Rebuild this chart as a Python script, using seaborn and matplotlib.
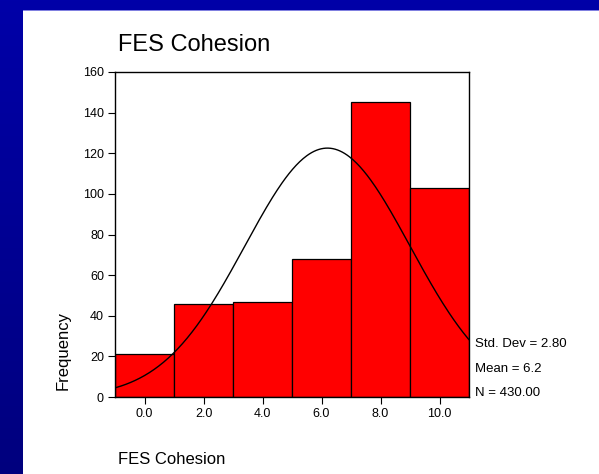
import numpy as np
import pandas as pd
import matplotlib
matplotlib.use("Agg")
import matplotlib.pyplot as plt
import seaborn as sns
from matplotlib.patches import Rectangle

# ---- data ----
bin_edges = [-1, 1, 3, 5, 7, 9, 11]
counts = [21, 46, 47, 68, 145, 103]
x_ticks = [0, 2, 4, 6, 8, 10]
x_tick_labels = ["0.0", "2.0", "4.0", "6.0", "8.0", "10.0"]
y_ticks = [0, 20, 40, 60, 80, 100, 120, 140, 160]
std_dev = 2.80
mean = 6.2
n_total = 430

sns.set_theme(style="white")
plt.rcParams['font.family'] = ['Liberation Sans', 'DejaVu Sans']

W, H = 599, 474
fig = plt.figure(figsize=(W / 100, H / 100), dpi=100)

# background gradient (slide)
bg = fig.add_axes([0, 0, 1, 1])
bg.set_axis_off()
grad = np.linspace(0, 1, 256).reshape(-1, 1)
from matplotlib.colors import LinearSegmentedColormap
cmap = LinearSegmentedColormap.from_list("b", ["#0000A8", "#00007E"])
bg.imshow(grad, aspect="auto", cmap=cmap, extent=[0, 1, 0, 1], origin="upper")
bg.set_xlim(0, 1)
bg.set_ylim(0, 1)
# white panel
bg.add_patch(Rectangle((23 / W, 0), 1 - 23 / W, 1 - 10 / H, facecolor="white", edgecolor="none"))
bg.add_patch(Rectangle((23 / W, 1 - 11 / H), 1 - 23 / W, 1.2 / H, facecolor="#8080E0", edgecolor="none"))

# main axes
left, right = 115 / W, 469 / W
bottom, top = 1 - 397 / H, 1 - 72 / H
ax = fig.add_axes([left, bottom, right - left, top - bottom])

centers = [(bin_edges[i] + bin_edges[i + 1]) / 2 for i in range(len(counts))]
df = pd.DataFrame({"x": centers, "w": counts})
sns.histplot(data=df, x="x", weights="w", bins=bin_edges, ax=ax,
             color="#FF0000", edgecolor="black", linewidth=0.9, alpha=1)

# fitted normal curve
xs = np.linspace(bin_edges[0], bin_edges[-1], 300)
bw = bin_edges[1] - bin_edges[0]
ys = n_total * bw / (std_dev * np.sqrt(2 * np.pi)) * np.exp(-0.5 * ((xs - mean) / std_dev) ** 2)
sns.lineplot(x=xs, y=ys, ax=ax, color="black", linewidth=1.0)

ax.set_xlim(bin_edges[0], bin_edges[-1])
ax.set_ylim(0, 160)
ax.set_xticks(x_ticks)
ax.set_xticklabels(x_tick_labels)
ax.set_yticks(y_ticks)
ax.set_xlabel("")
ax.set_ylabel("")
ax.tick_params(axis="both", which="both", direction="out", length=5, width=0.8,
               colors="black", labelsize=9, bottom=True, left=True, pad=3)
for s in ax.spines.values():
    s.set_visible(True)
    s.set_color("black")
    s.set_linewidth(1.0)
ax.set_facecolor("white")
ax.grid(False)

# texts
fig.text(118 / W, 1 - 45 / H, "FES Cohesion", fontsize=17, ha="left", va="center", color="black")
fig.text(118 / W, 1 - 460 / H, "FES Cohesion", fontsize=12, ha="left", va="center", color="black")
fig.text(63 / W, 1 - 350 / H, "Frequency", fontsize=12, rotation=90, ha="center", va="center", color="black")
fig.text(475 / W, 1 - 344 / H, f"Std. Dev = {std_dev:.2f}", fontsize=9.5, ha="left", va="center", color="black")
fig.text(475 / W, 1 - 369 / H, f"Mean = {mean:.1f}", fontsize=9.5, ha="left", va="center", color="black")
fig.text(475 / W, 1 - 393 / H, f"N = {n_total:.2f}", fontsize=9.5, ha="left", va="center", color="black")

fig.savefig("out.png", dpi=100)
